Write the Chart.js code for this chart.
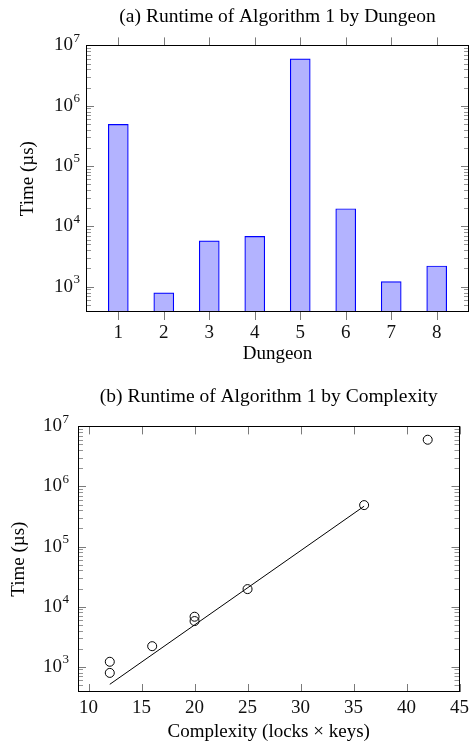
<!DOCTYPE html>
<html>
<head>
<meta charset="utf-8">
<script src="https://cdn.jsdelivr.net/npm/chart.js@4.4.1/dist/chart.umd.min.js"></script>
<style>
  body { margin: 0; background: #fff; }
  canvas { display: block; }
</style>
</head>
<body>
<canvas id="barChart" width="474" height="372"></canvas>
<canvas id="scatterChart" width="474" height="374"></canvas>
<script>
// data
const dungeons = [1, 2, 3, 4, 5, 6, 7, 8];
const runtimes = [490000, 790, 5760, 6800, 6000000, 19600, 1210, 2200];
const complexity = [36, 12, 20, 20, 42, 25, 12, 16];
const fitX = [12, 36];
const fitY = [510, 470000];
const complexityTicks = [10, 15, 20, 25, 30, 35, 40, 45];
const timeTicks = [1e3, 1e4, 1e5, 1e6, 1e7];

const SERIF = "'Liberation Serif', 'Times New Roman', serif";
Chart.defaults.color = '#000';
Chart.defaults.font.family = SERIF;

const TICK = '#7a7a7a';
const MINOR = '#959595';

// pgfplots-like ticks, frame and 10^n labels
const pgfAxes = {
    id: 'pgfAxes',
    afterDraw(chart) {
        const opts = chart.options.plugins.pgfAxes;
        const { ctx, chartArea: a, scales: { x, y } } = chart;
        ctx.save();
        ctx.lineWidth = 1;
        const seg = (x1, y1, x2, y2, c) => {
            ctx.strokeStyle = c;
            ctx.beginPath(); ctx.moveTo(x1, y1); ctx.lineTo(x2, y2); ctx.stroke();
        };
        const dir = opts.xOutside ? -1 : 1;
        x.ticks.forEach(t => {
            const px = Math.round(x.getPixelForValue(t.value)) + 0.5;
            seg(px, a.bottom, px, a.bottom - dir * 8, TICK);
            seg(px, a.top, px, a.top + dir * 8, TICK);
        });
        for (let e = 2; e <= 7; e++) {
            for (let k = 1; k <= 9; k++) {
                const v = k * Math.pow(10, e);
                if (v < y.min || v > y.max) continue;
                const py = Math.round(y.getPixelForValue(v)) + 0.5;
                const len = k === 1 ? 8 : 5;
                const c = k === 1 ? TICK : MINOR;
                seg(a.left, py, a.left + len, py, c);
                seg(a.right, py, a.right - len, py, c);
            }
        }
        ctx.strokeStyle = '#000';
        ctx.strokeRect(Math.round(a.left) + 0.5, Math.round(a.top) + 0.5, Math.round(a.width) - 1, Math.round(a.height) - 1);
        // y labels as 10 with superscript exponent
        ctx.fillStyle = '#111';
        ctx.textBaseline = 'middle';
        ctx.textAlign = 'right';
        timeTicks.forEach(v => {
            const py = y.getPixelForValue(v);
            const exp = String(Math.round(Math.log10(v)));
            const right = a.left - opts.labelGap;
            ctx.font = '13px ' + SERIF;
            ctx.fillText(exp, right, py - 7);
            const ew = ctx.measureText(exp).width;
            ctx.font = '19px ' + SERIF;
            ctx.fillText('10', right - ew - 0.5, py);
        });
        ctx.restore();
    }
};

function fixedY(width, titlePad) {
    return {
        type: 'logarithmic',
        min: 380, max: 1e7,
        grid: { display: false },
        border: { display: false },
        ticks: { display: false },
        title: { display: true, text: 'Time (µs)', font: { size: 19, family: SERIF }, padding: { top: titlePad, bottom: 0 } },
        afterBuildTicks: s => { s.ticks = timeTicks.map(v => ({ value: v })); },
        afterFit: s => { s.width = width; }
    };
}

// (a) bars
new Chart(document.getElementById('barChart'), {
    type: 'bar',
    data: {
        datasets: [{
            data: dungeons.map((d, i) => ({ x: d, y: runtimes[i] })),
            backgroundColor: '#b3b3ff',
            borderColor: '#0000ff',
            borderWidth: 1.2,
            barThickness: 20
        }]
    },
    options: {
        responsive: false,
        animation: false,
        layout: { padding: { left: 0, right: 5, top: 0, bottom: 0 } },
        plugins: {
            legend: { display: false },
            tooltip: { enabled: false },
            title: {
                display: true, fullSize: false,
                text: '(a) Runtime of Algorithm 1 by Dungeon',
                font: { size: 19.5, family: SERIF, weight: 'normal' },
                padding: { top: 5, bottom: 17 }
            },
            pgfAxes: { xOutside: true, labelGap: 6 }
        },
        scales: {
            x: {
                type: 'linear',
                offset: false,
                min: 0.29, max: 8.71,
                grid: { display: false, drawTicks: false },
                border: { display: false },
                ticks: { font: { size: 19, family: SERIF }, padding: 10, color: '#111' },
                title: { display: true, text: 'Dungeon', font: { size: 19, family: SERIF }, padding: { top: 0, bottom: 7 } },
                afterBuildTicks: s => { s.ticks = dungeons.map(v => ({ value: v })); },
                afterFit: s => { s.height = 60; }
            },
            y: fixedY(86, 17)
        }
    },
    plugins: [pgfAxes]
});

// (b) scatter with fit line
new Chart(document.getElementById('scatterChart'), {
    type: 'scatter',
    data: {
        datasets: [{
            data: complexity.map((c, i) => ({ x: c, y: runtimes[i] })),
            pointStyle: 'circle',
            pointRadius: 4.5,
            borderWidth: 1,
            borderColor: '#000',
            backgroundColor: 'rgba(0,0,0,0)'
        }, {
            data: fitX.map((c, i) => ({ x: c, y: fitY[i] })),
            showLine: true,
            pointRadius: 0,
            borderWidth: 1,
            borderColor: '#000'
        }]
    },
    options: {
        responsive: false,
        animation: false,
        layout: { padding: { left: 0, right: 13, top: 0, bottom: 0 } },
        plugins: {
            legend: { display: false },
            tooltip: { enabled: false },
            title: {
                display: true, fullSize: false,
                text: '(b) Runtime of Algorithm 1 by Complexity',
                font: { size: 19.5, family: SERIF, weight: 'normal' },
                padding: { top: 13, bottom: 18 }
            },
            pgfAxes: { xOutside: false, labelGap: 9 }
        },
        scales: {
            x: {
                type: 'linear',
                min: 9, max: 45,
                grid: { display: false, drawTicks: false },
                border: { display: false },
                ticks: { font: { size: 19, family: SERIF }, padding: 5, color: '#111' },
                title: { display: true, text: 'Complexity (locks × keys)', font: { size: 19, family: SERIF }, padding: { top: 0, bottom: 3 } },
                afterBuildTicks: s => { s.ticks = complexityTicks.map(v => ({ value: v })); },
                afterFit: s => { s.height = 54; }
            },
            y: fixedY(78, 8)
        }
    },
    plugins: [pgfAxes]
});
</script>
</body>
</html>
